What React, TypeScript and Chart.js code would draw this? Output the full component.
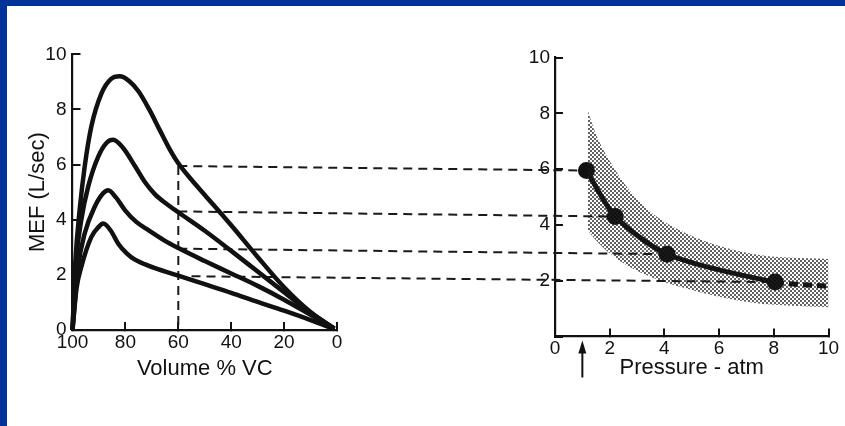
import React, { useEffect, useRef } from 'react';
import { Chart, registerables } from 'chart.js';

Chart.register(...registerables);

// ---- Left panel: flow-volume curves (Volume % VC vs MEF L/sec) ----
const curve1: [number, number][] = [
  [100, 0], [98.9, 2.5], [97.3, 4.35], [95.4, 5.92], [92.9, 7.37], [89.0, 8.59], [85.5, 9.1],
  [82.1, 9.2], [78.5, 9.02], [75.0, 8.65], [71.0, 8.0], [67.0, 7.25], [63.5, 6.6], [60, 6.05],
  [55, 5.45], [50, 4.9], [40, 3.8], [30, 2.65], [20, 1.55], [10, 0.65], [1, 0.05],
];
const curve2: [number, number][] = [
  [100, 0], [98.6, 2.53], [96.7, 3.98], [94.1, 5.19], [90.3, 6.28], [87.0, 6.8], [84.6, 6.9],
  [81.0, 6.62], [76.4, 5.95], [72.5, 5.35], [68.8, 4.92], [64.5, 4.58], [60, 4.27], [50, 3.6],
  [40, 2.87], [30, 2.12], [20, 1.37], [10, 0.62], [1, 0.05],
];
const curve3: [number, number][] = [
  [100, 0], [97.9, 2.28], [95.4, 3.5], [91.6, 4.47], [88.5, 4.95], [86.5, 5.07], [83.5, 4.8],
  [80.2, 4.35], [76.0, 3.93], [71.3, 3.62], [65.5, 3.26], [60, 2.97], [50, 2.5], [40, 2.05],
  [30, 1.6], [20, 1.1], [10, 0.55], [1, 0.05],
];
const curve4: [number, number][] = [
  [100, 0], [98.5, 1.5], [96.7, 2.28], [92.9, 3.37], [90.0, 3.75], [88.4, 3.86], [85.5, 3.6],
  [82.7, 3.13], [79.5, 2.78], [76.4, 2.55], [72.5, 2.38], [68.8, 2.24], [60, 1.97], [50, 1.66],
  [40, 1.35], [30, 1.02], [20, 0.7], [10, 0.36], [1, 0.03],
];
const flowCurves = [curve1, curve2, curve3, curve4];

// ---- Right panel: MEF at 60% VC vs ambient pressure ----
const pressureAtm = [1.15, 2.2, 4.1, 8.05, 10];
const mefAtPressure = [5.95, 4.3, 2.95, 1.95, 1.8];
const bandPressure = [1.2, 1.5, 2, 2.75, 3.6, 4.6, 5.8, 7.3, 8.5, 10];
const bandUpper = [8.1, 7.24, 6.29, 5.21, 4.38, 3.79, 3.31, 2.95, 2.83, 2.78];
const bandLower = [3.8, 3.45, 2.98, 2.48, 2.1, 1.77, 1.47, 1.2, 1.11, 1.05];

// ---- Connectors ----
const selectedVolume = 60;
const connectorStartVolume = [60, 60, 60, 55];
const atmosphericPressure = 1;

// ---- Axis ranges / titles ----
const volumeRange = [0, 100];
const volumeStep = 20;
const mefRange = [0, 10];
const mefStep = 2;
const pressureRange = [0, 10];
const pressureStep = 2;
const leftXTitle = 'Volume % VC';
const leftYTitle = 'MEF (L/sec)';
const rightXTitle = 'Pressure - atm';

const FONT = "'Liberation Sans', Arial, Helvetica, sans-serif";
const INK = '#111';

// Layout of the two panels (pixels)
const LEFT = { x0: 72.5, x1: 337, yTop: 54.3, yBottom: 330 };
const RIGHT = { x0: 555, x1: 828.5, yTop: 57.5, yBottom: 336.5 };

const placeScales = {
  id: 'placeScales',
  afterLayout(chart: any) {
    const s = chart.scales;
    const set = (sc: any, l: number, t: number, r: number, b: number) => {
      sc.left = l; sc.top = t; sc.right = r; sc.bottom = b;
      sc.width = r - l; sc.height = b - t;
      sc.configure();
      sc._gridLineItems = null;
      sc._labelItems = null;
    };
    set(s.x1, LEFT.x0, LEFT.yBottom, LEFT.x1, 382);
    set(s.y1, 25, LEFT.yTop, LEFT.x0, LEFT.yBottom);
    set(s.x2, RIGHT.x0, RIGHT.yBottom, RIGHT.x1, 381);
    set(s.y2, 480, RIGHT.yTop, RIGHT.x0, RIGHT.yBottom);
    Object.assign(chart.chartArea, {
      left: 0, top: 0, right: chart.width, bottom: chart.height,
      width: chart.width, height: chart.height,
    });
  },
};

const connectors = {
  id: 'connectors',
  beforeDatasetsDraw(chart: any) {
    const { ctx } = chart;
    const { x1, y1, x2, y2 } = chart.scales;
    ctx.save();
    ctx.strokeStyle = '#1a1a1a';
    ctx.lineWidth = 2;
    ctx.setLineDash([9, 6]);
    for (let i = 0; i < connectorStartVolume.length; i++) {
      const level = mefAtPressure[i];
      ctx.beginPath();
      ctx.moveTo(x1.getPixelForValue(connectorStartVolume[i]), y1.getPixelForValue(level));
      ctx.lineTo(x2.getPixelForValue(pressureAtm[i]), y2.getPixelForValue(level));
      ctx.stroke();
    }
    const vx = x1.getPixelForValue(selectedVolume);
    ctx.beginPath();
    ctx.moveTo(vx, y1.getPixelForValue(mefAtPressure[0]));
    ctx.lineTo(vx, y1.getPixelForValue(0));
    ctx.stroke();
    ctx.restore();
  },
  afterDraw(chart: any) {
    const { ctx } = chart;
    const { x2 } = chart.scales;
    const x = x2.getPixelForValue(atmosphericPressure);
    const tip = x2.top + 4;
    ctx.save();
    ctx.strokeStyle = INK;
    ctx.fillStyle = INK;
    ctx.lineWidth = 2;
    ctx.beginPath();
    ctx.moveTo(x, x2.top + 41);
    ctx.lineTo(x, tip + 8);
    ctx.stroke();
    ctx.beginPath();
    ctx.moveTo(x, tip);
    ctx.lineTo(x - 4, tip + 13);
    ctx.lineTo(x + 4, tip + 13);
    ctx.closePath();
    ctx.fill();
    ctx.restore();
  },
};

function makeDots(): CanvasPattern | string {
  const pc = document.createElement('canvas');
  pc.width = 4; pc.height = 4;
  const g = pc.getContext('2d');
  if (!g) return 'rgba(0,0,0,0.35)';
  g.fillStyle = '#1e1e1e';
  g.beginPath(); g.arc(1, 1, 0.95, 0, Math.PI * 2); g.fill();
  g.beginPath(); g.arc(3, 3, 0.95, 0, Math.PI * 2); g.fill();
  const p = g.createPattern(pc, 'repeat');
  return p || 'rgba(0,0,0,0.35)';
}

function axisCommon(extra: any) {
  return {
    type: 'linear',
    grid: { display: true, drawOnChartArea: false, drawTicks: true, tickLength: -8, color: INK, lineWidth: 2 },
    border: { display: true, color: INK, width: 2.2 },
    ...extra,
  };
}

export default function App() {
  const ref = useRef<HTMLCanvasElement>(null);

  useEffect(() => {
    if (!ref.current) return;
    const dots = makeDots();
    const tickFont = { family: FONT, size: 19 };
    const titleFont = { family: FONT, size: 22 };

    const curveSets = flowCurves.map((c) => ({
      type: 'line',
      data: c.map(([x, y]) => ({ x, y })),
      xAxisID: 'x1',
      yAxisID: 'y1',
      borderColor: INK,
      borderWidth: 4.5,
      pointRadius: 0,
      cubicInterpolationMode: 'monotone',
      fill: false,
      clip: false,
    }));

    const chart = new Chart(ref.current, {
      type: 'line',
      data: {
        datasets: [
          ...curveSets,
          {
            type: 'line',
            data: bandPressure.map((x, i) => ({ x, y: bandUpper[i] })),
            xAxisID: 'x2', yAxisID: 'y2',
            borderWidth: 0, borderColor: 'rgba(0,0,0,0)', pointRadius: 0,
            tension: 0.35, fill: false, clip: false,
          },
          {
            type: 'line',
            data: bandPressure.map((x, i) => ({ x, y: bandLower[i] })),
            xAxisID: 'x2', yAxisID: 'y2',
            borderWidth: 0, borderColor: 'rgba(0,0,0,0)', pointRadius: 0,
            tension: 0.35, fill: '-1', backgroundColor: dots, clip: false,
          },
          {
            type: 'line',
            data: pressureAtm.map((x, i) => ({ x, y: mefAtPressure[i] })),
            xAxisID: 'x2', yAxisID: 'y2',
            borderColor: INK, borderWidth: 5,
            pointRadius: pressureAtm.map((_, i) => (i < 4 ? 6 : 0)),
            pointBackgroundColor: INK, pointBorderColor: INK,
            tension: 0.25, fill: false, clip: false,
            segment: { borderDash: (c: any) => (c.p0DataIndex >= 3 ? [9, 5] : undefined) },
          },
        ],
      } as any,
      options: {
        responsive: false,
        animation: false,
        events: [],
        layout: { padding: 0 },
        plugins: { legend: { display: false }, tooltip: { enabled: false } },
        scales: {
          x1: axisCommon({
            position: 'bottom', min: volumeRange[0], max: volumeRange[1], reverse: true,
            ticks: { stepSize: volumeStep, color: INK, font: tickFont, padding: 9, maxRotation: 0, autoSkip: false },
            title: { display: true, text: leftXTitle, color: INK, font: titleFont, padding: 0 },
          }),
          y1: axisCommon({
            position: 'left', min: mefRange[0], max: mefRange[1],
            ticks: { stepSize: mefStep, color: INK, font: tickFont, padding: 14, autoSkip: false },
            title: { display: true, text: leftYTitle, color: INK, font: titleFont, padding: 0 },
          }),
          x2: axisCommon({
            position: 'bottom', min: pressureRange[0], max: pressureRange[1],
            ticks: { stepSize: pressureStep, color: INK, font: tickFont, padding: 9, maxRotation: 0, autoSkip: false },
            title: { display: true, text: rightXTitle, color: INK, font: titleFont, padding: 0 },
          }),
          y2: axisCommon({
            position: 'left', min: mefRange[0], max: mefRange[1],
            ticks: {
              stepSize: mefStep, color: INK, font: tickFont, padding: 13, autoSkip: false,
              callback: (v: any) => (Number(v) === 0 ? '' : String(v)),
            },
            title: { display: false },
          }),
        },
      } as any,
      plugins: [placeScales, connectors],
    });
    return () => chart.destroy();
  }, []);

  return (
    <div style={{ position: 'fixed', left: 0, top: 0, width: 845, height: 426, background: '#003399', overflow: 'hidden' }}>
      <div style={{ position: 'absolute', left: 7, top: 6, right: 0, bottom: 0, background: '#fff' }} />
      <canvas ref={ref} width={845} height={426} style={{ position: 'absolute', left: 0, top: 0, width: 845, height: 426 }} />
    </div>
  );
}
